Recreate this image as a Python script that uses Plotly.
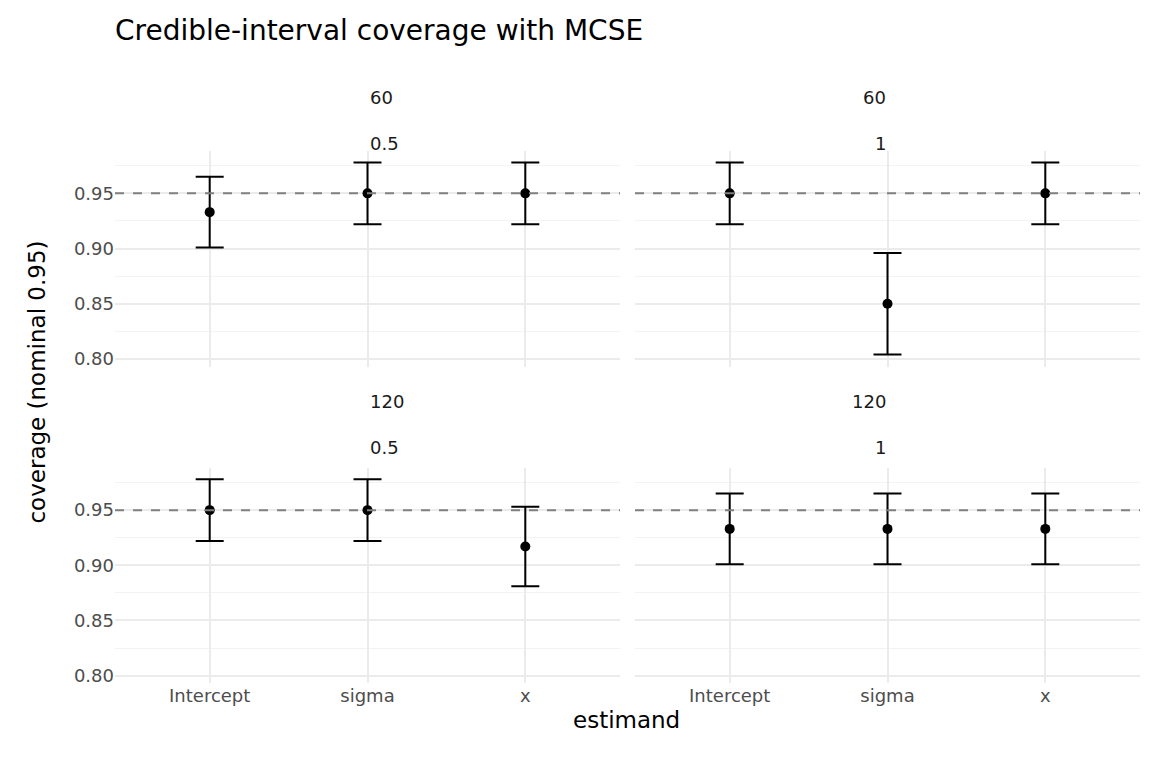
import plotly.graph_objects as go

def create_coverage_chart():
    estimands = ['Intercept', 'sigma', 'x']
    # (n, sd) -> (coverage, mcse-based interval half widths)
    panels = {
        ('60', '0.5'): ([0.933, 0.95, 0.95], [0.032, 0.028, 0.028]),
        ('60', '1'): ([0.95, 0.85, 0.95], [0.028, 0.046, 0.028]),
        ('120', '0.5'): ([0.95, 0.95, 0.917], [0.028, 0.028, 0.036]),
        ('120', '1'): ([0.933, 0.933, 0.933], [0.032, 0.032, 0.032]),
    }

    W, H = 1152, 768
    o = 8  # page body margin
    xdoms = [[(115 - o) / W, (620 - o) / W], [(635 - o) / W, (1140 - o) / W]]
    ydoms = [[1 - (368 - o) / H, 1 - (152 - o) / H], [1 - (686 - o) / H, 1 - (470 - o) / H]]

    fig = go.Figure()
    for i, ((n, sd), (cov, err)) in enumerate(panels.items()):
        r, c = divmod(i, 2)
        k = '' if i == 0 else str(i + 1)
        fig.add_trace(go.Scatter(x=estimands, y=cov, mode='markers',
                                 xaxis='x' + k, yaxis='y' + k, showlegend=False,
                                 marker=dict(color='black', size=10),
                                 error_y=dict(type='data', array=err, color='black',
                                              thickness=2, width=14)))
        fig.update_layout({
            'xaxis' + k: dict(domain=xdoms[c], anchor='y' + k, type='category',
                              range=[-0.6, 2.6], showgrid=True, gridcolor='#ebebeb',
                              gridwidth=2, showticklabels=(r == 1), zeroline=False,
                              tickfont=dict(size=18, color='#4d4d4d'), ticks=''),
            'yaxis' + k: dict(domain=ydoms[r], anchor='x' + k, range=[0.793, 0.988],
                              tickvals=[0.80, 0.85, 0.90, 0.95], ticktext=['0.80', '0.85', '0.90', '0.95'],
                              showticklabels=(c == 0), gridcolor='#ebebeb', gridwidth=2,
                              zeroline=False, tickfont=dict(size=18, color='#4d4d4d'),
                              minor=dict(tickvals=[0.825, 0.875, 0.925, 0.975],
                                         showgrid=True, gridcolor='#f3f3f3', gridwidth=1)),
        })
        fig.add_shape(type='line', xref='x' + k + ' domain', yref='y' + k,
                      x0=0, x1=1, y0=0.95, y1=0.95,
                      line=dict(color='grey', width=2, dash='dash'))
        ytop = ydoms[r][1]
        fig.add_annotation(x=sum(xdoms[c]) / 2, y=ytop + 67 / H, xref='paper', yref='paper',
                           text=n, showarrow=False, font=dict(size=18, color='#1a1a1a'))
        fig.add_annotation(x=sum(xdoms[c]) / 2, y=ytop + 21 / H, xref='paper', yref='paper',
                           text=sd, showarrow=False, font=dict(size=18, color='#1a1a1a'))

    fig.add_annotation(x=(22 - o) / W, y=0.5 + o / H, xref='paper', yref='paper', text='coverage (nominal 0.95)',
                       textangle=-90, showarrow=False, font=dict(size=23, color='black'))
    fig.add_annotation(x=(626 - o) / W, y=1 - (738 - o) / H, xref='paper', yref='paper', text='estimand',
                       showarrow=False, font=dict(size=23, color='black'))

    fig.update_layout(title=dict(text='Credible-interval coverage with MCSE', x=(115 - o) / W, xanchor='left',
                                 y=1 - (30 - o) / H, yanchor='middle', font=dict(size=28, color='black')),
                      width=W, height=H, margin=dict(l=0, r=0, t=0, b=0),
                      plot_bgcolor='white', paper_bgcolor='white',
                      font=dict(family='DejaVu Sans'))

    fig.write_html("out.html")

if __name__ == "__main__":
    create_coverage_chart()
